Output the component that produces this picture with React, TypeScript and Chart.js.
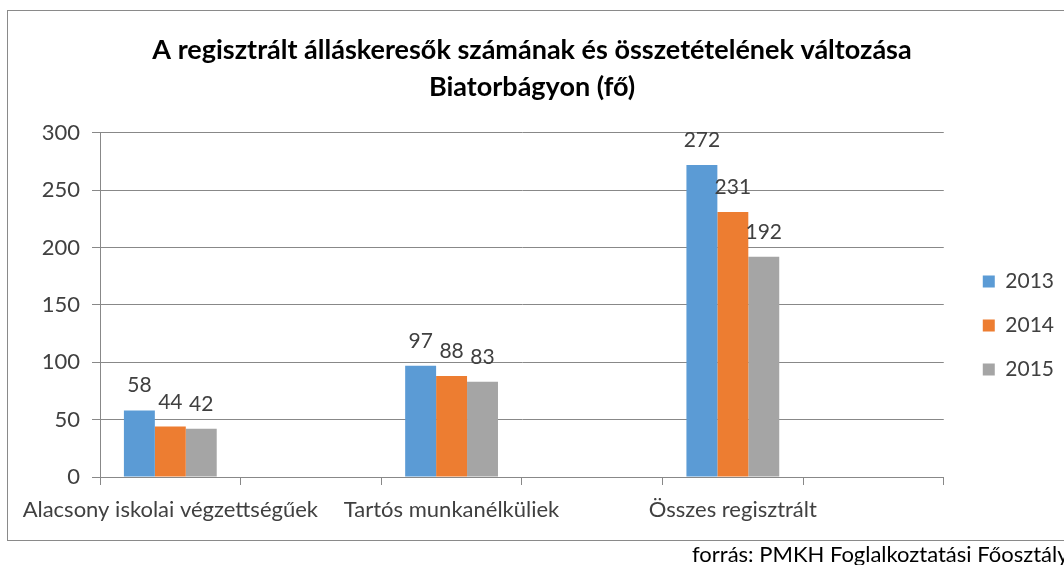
import { useEffect, useRef } from 'react';
import { Chart, registerables } from 'chart.js';

Chart.register(...registerables);

const categories = ['Alacsony iskolai végzettségűek', '', 'Tartós munkanélküliek', '', 'Összes regisztrált', ''];
const values2013 = [58, null, 97, null, 272, null];
const values2014 = [44, null, 88, null, 231, null];
const values2015 = [42, null, 83, null, 192, null];
const seriesNames = ['2013', '2014', '2015'];
const seriesColors = ['#5B9BD5', '#ED7D31', '#A5A5A5'];
const titleLines = ['A regisztrált álláskeresők számának és összetételének változása', 'Biatorbágyon (fő)'];
const footerText = 'forrás: PMKH Foglalkoztatási Főosztály';
const yMin = 0;
const yMax = 300;
const yStep = 50;

const FONT = 'Lato, "Noto Sans", sans-serif';
const TEXT_COLOR = '#404040';
const GRID_COLOR = '#888888';

const framePlugin = {
  id: 'frameFooter',
  afterDraw(chart: any) {
    const ctx = chart.ctx;
    ctx.save();
    ctx.strokeStyle = '#8a8a8a';
    ctx.lineWidth = 1;
    ctx.strokeRect(7.5, 10.5, 1080, 530);
    ctx.fillStyle = '#000000';
    ctx.font = '22px ' + FONT;
    ctx.textAlign = 'left';
    ctx.textBaseline = 'alphabetic';
    ctx.fillText(footerText, 692, 562);
    ctx.restore();
  },
};

const valueLabelPlugin = {
  id: 'valueLabels',
  afterDatasetsDraw(chart: any) {
    const ctx = chart.ctx;
    ctx.save();
    ctx.font = '21px ' + FONT;
    ctx.fillStyle = TEXT_COLOR;
    ctx.textAlign = 'center';
    ctx.textBaseline = 'alphabetic';
    chart.data.datasets.forEach((ds: any, i: number) => {
      const meta = chart.getDatasetMeta(i);
      meta.data.forEach((el: any, j: number) => {
        const v = ds.data[j];
        if (v === null || v === undefined) return;
        ctx.fillText(String(v), el.x, el.y - 18);
      });
    });
    ctx.restore();
  },
};

export default function App() {
  const ref = useRef<HTMLCanvasElement>(null);

  useEffect(() => {
    if (!ref.current) return;
    const chart = new Chart(ref.current, {
      type: 'bar',
      data: {
        labels: categories,
        datasets: [values2013, values2014, values2015].map((d, i) => ({
          label: seriesNames[i],
          data: d,
          backgroundColor: seriesColors[i],
          borderWidth: 0,
          categoryPercentage: 0.66,
          barPercentage: 1.0,
        })),
      },
      options: {
        animation: false,
        responsive: false,
        layout: { padding: { left: 0, right: 0, top: 0, bottom: 0 } },
        plugins: {
          title: {
            display: true,
            text: titleLines,
            color: '#000000',
            font: { family: FONT, size: 27, weight: 'bold', lineHeight: 1.37 },
            padding: { top: 31.5, bottom: 27.5 },
          },
          legend: {
            position: 'right',
            align: 'center',
            title: { display: true, text: ' ', padding: { top: 44, bottom: 0 }, font: { size: 35, lineHeight: 1.2 } },
            labels: {
              boxWidth: 12,
              boxHeight: 12,
              padding: 23,
              color: TEXT_COLOR,
              font: { family: FONT, size: 21 },
            },
          },
          tooltip: { enabled: false },
        },
        scales: {
          x: {
            grid: { display: true, drawOnChartArea: false, drawTicks: true, tickLength: 8, color: GRID_COLOR },
            border: { display: true, color: GRID_COLOR },
            ticks: {
              autoSkip: false,
              maxRotation: 0,
              minRotation: 0,
              padding: 12,
              color: TEXT_COLOR,
              font: { family: FONT, size: 22 },
            },
            afterFit: (s: any) => { s.height = 88; },
          },
          y: {
            min: yMin,
            max: yMax,
            grid: { color: GRID_COLOR, tickLength: 8 },
            border: { display: true, color: GRID_COLOR },
            ticks: {
              stepSize: yStep,
              padding: 12,
              color: TEXT_COLOR,
              font: { family: FONT, size: 22 },
            },
            afterFit: (s: any) => { s.width = 100; },
          },
          y2: {
            position: 'right',
            display: true,
            grid: { display: false },
            border: { display: false },
            ticks: { display: false },
            afterFit: (s: any) => { s.width = 16; },
          },
        },
      },
      plugins: [framePlugin, valueLabelPlugin],
    } as any);
    return () => chart.destroy();
  }, []);

  return (
    <div style={{ position: 'fixed', left: 0, top: 0, width: 1064, height: 565, background: '#ffffff' }}>
      <canvas ref={ref} width={1064} height={565} style={{ display: 'block' }} />
    </div>
  );
}
